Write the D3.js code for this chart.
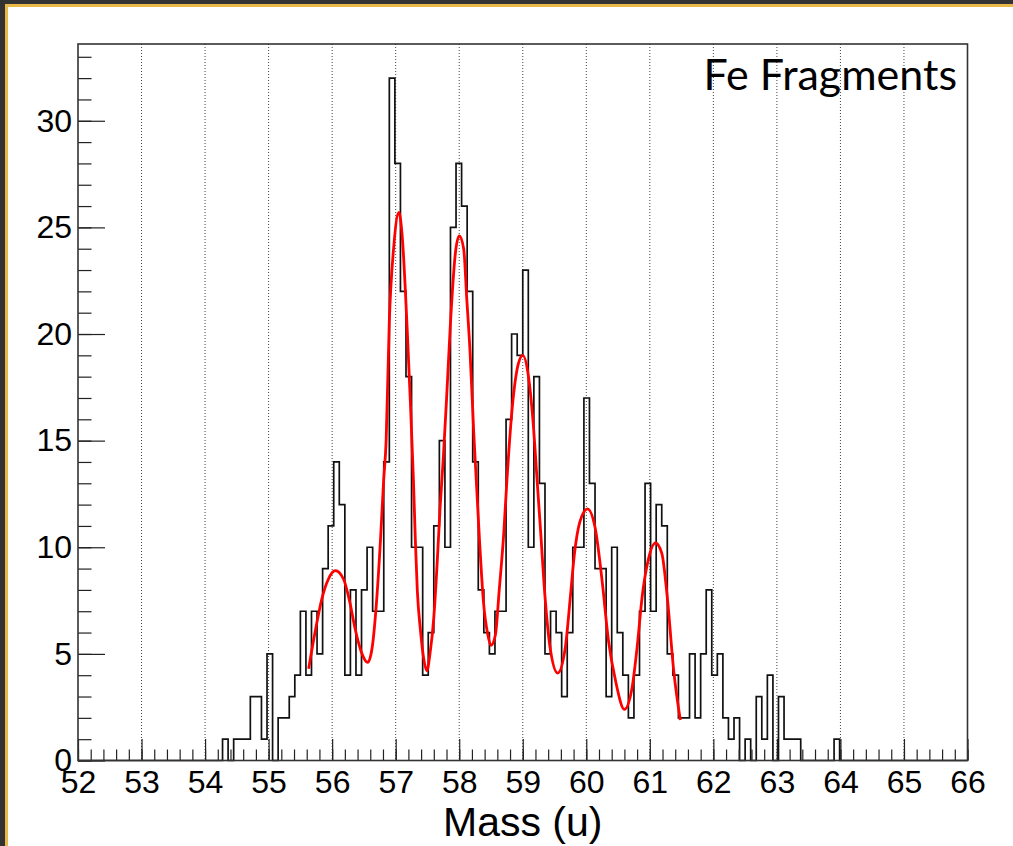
<!DOCTYPE html>
<html>
<head>
<meta charset="utf-8">
<script src="https://d3js.org/d3.v7.min.js"></script>
<style>
body { margin: 0; background: #fff; }
svg { display: block; }
</style>
</head>
<body>
<svg></svg>
<script>
// histogram binning (mass in u)
var binStart = 52;
var binWidth = 0.0875;
var binCount = 160;
var firstFilledBin = 26;

// counts, bin 26 (54.275 u) .. bin 136 (63.9 u)
var counts = [
    1, 0, 1, 1, 1, 3, 3, 1, 5, 0,
    2, 2, 3, 4, 7, 4, 7, 5, 9, 11,
    14, 12, 4, 8, 4, 8, 10, 7, 7, 14,
    32, 28, 22, 18, 10, 10, 4, 6, 11, 15,
    10, 25, 28, 26, 22, 14, 8, 6, 5, 7,
    7, 16, 20, 19, 23, 10, 18, 13, 5, 7,
    6, 3, 6, 10, 10, 17, 13, 9, 9, 3,
    10, 6, 4, 2, 4, 7, 13, 7, 12, 11,
    5, 4, 2, 2, 5, 2, 5, 8, 4, 5,
    2, 1, 2, 0, 1, 0, 3, 1, 4, 0,
    3, 1, 1, 1, 0, 0, 0, 0, 0, 0,
    1
];

// fitted curve, points
var fitMass = [55.63, 55.73, 55.84, 55.94, 56.05, 56.18, 56.28, 56.36, 56.47, 56.56,
    56.63, 56.70, 56.76, 56.81, 56.85, 56.90, 56.97, 57.05, 57.10, 57.18,
    57.23, 57.28, 57.31, 57.34, 57.39, 57.44, 57.49, 57.54, 57.60, 57.65,
    57.70, 57.75, 57.80, 57.86, 57.94, 58.00, 58.07, 58.12, 58.17, 58.23,
    58.28, 58.32, 58.38, 58.45, 58.50, 58.57, 58.63, 58.70, 58.75, 58.83,
    58.93, 59.00, 59.09, 59.17, 59.22, 59.28, 59.35, 59.43, 59.55, 59.67,
    59.75, 59.81, 59.90, 60.02, 60.14, 60.25, 60.35, 60.46, 60.60, 60.72,
    60.80, 60.88, 60.96, 61.09, 61.19, 61.27, 61.38, 61.48];
var fitCounts = [4.3, 6.0, 7.6, 8.5, 8.9, 8.5, 7.4, 6.2, 5.0, 4.6,
    5.3, 7.5, 10.3, 13.1, 15.0, 20.6, 24.1, 25.7, 24.7, 20.3,
    16.9, 13.1, 10.3, 8.0, 6.1, 4.8, 4.2, 5.0, 6.7, 9.1,
    11.9, 14.2, 16.9, 20.4, 23.8, 24.6, 24.0, 21.6, 19.2, 15.3,
    12.5, 10.3, 7.5, 5.9, 5.4, 5.9, 8.0, 10.6, 13.1, 16.4,
    18.6, 19.0, 18.0, 15.6, 13.4, 10.8, 7.7, 5.3, 4.1, 5.3,
    7.7, 9.6, 11.2, 11.8, 10.9, 8.4, 5.6, 3.75, 2.4, 3.4,
    5.3, 7.7, 9.2, 10.2, 9.7, 7.8, 4.1, 1.9];

var xTicks = [52, 53, 54, 55, 56, 57, 58, 59, 60, 61, 62, 63, 64, 65, 66];
var yTicks = [0, 5, 10, 15, 20, 25, 30];
var xTitle = "Mass (u)";
var label = "Fe Fragments";

var width = 1013, height = 846;
var frame = {left: 78, right: 967.5, top: 44, bottom: 760.5};
var font = "'Liberation Sans', Arial, Helvetica, sans-serif";

var svg = d3.select("svg")
    .attr("width", width)
    .attr("height", height);

// dark/gold border of the screenshot
svg.append("rect").attr("x", 0).attr("y", 0).attr("width", width).attr("height", 4).attr("fill", "#333");
svg.append("rect").attr("x", 0).attr("y", 0).attr("width", 5).attr("height", height).attr("fill", "#333");
svg.append("rect").attr("x", 5).attr("y", 4).attr("width", width - 5).attr("height", 3).attr("fill", "#e8b948");
svg.append("rect").attr("x", 5).attr("y", 4).attr("width", 3).attr("height", height - 4).attr("fill", "#e8b948");

var x = d3.scaleLinear()
    .domain([binStart, binStart + binCount * binWidth])
    .range([frame.left, frame.right]);

var y = d3.scaleLinear()
    .domain([0, 33.6])
    .range([frame.bottom, frame.top]);

//vertical dotted grid
svg.append("g")
    .selectAll("line")
    .data(xTicks.slice(1, -1))
    .enter().append("line")
    .attr("x1", function(d) { return x(d); })
    .attr("x2", function(d) { return x(d); })
    .attr("y1", frame.top)
    .attr("y2", frame.bottom)
    .attr("stroke", "#444")
    .attr("stroke-width", 1)
    .attr("stroke-dasharray", "1,2");

//histogram outline as steps
var full = d3.range(binCount).map(function(k) {
    var i = k - firstFilledBin;
    return (i >= 0 && i < counts.length) ? counts[i] : 0;
});
var steps = [[binStart, 0]];
full.forEach(function(c, k) { steps.push([binStart + k * binWidth, c]); });
steps.push([binStart + binCount * binWidth, full[binCount - 1]]);
steps.push([binStart + binCount * binWidth, 0]);

var stepLine = d3.line()
    .x(function(d) { return x(d[0]); })
    .y(function(d) { return y(d[1]); })
    .curve(d3.curveStepAfter);

svg.append("path")
    .datum(steps)
    .attr("d", stepLine)
    .attr("fill", "none")
    .attr("stroke", "#111")
    .attr("stroke-width", 1.7);

//red fit curve
var fitLine = d3.line()
    .x(function(d) { return x(d[0]); })
    .y(function(d) { return y(d[1]); })
    .curve(d3.curveMonotoneX);

svg.append("path")
    .datum(fitMass.map(function(m, i) { return [m, fitCounts[i]]; }))
    .attr("d", fitLine)
    .attr("fill", "none")
    .attr("stroke", "#ff0000")
    .attr("stroke-width", 2.8);

//axes - ticks point inwards like ROOT
var xMinor = d3.range(52, 66.001, 0.2).map(function(d) { return Math.round(d * 10) / 10; });
svg.append("g")
    .attr("transform", "translate(0," + frame.bottom + ")")
    .call(d3.axisBottom(x).tickValues(xMinor).tickSizeInner(-11).tickSizeOuter(0).tickFormat(""))
    .call(function(g) { g.select(".domain").remove(); });

var xAxis = svg.append("g")
    .attr("transform", "translate(0," + frame.bottom + ")")
    .call(d3.axisBottom(x).tickValues(xTicks).tickSizeInner(-21.5).tickSizeOuter(0).tickPadding(10).tickFormat(d3.format("d")))
    .call(function(g) { g.select(".domain").remove(); });

var yMinor = d3.range(0, 34);
svg.append("g")
    .attr("transform", "translate(" + frame.left + ",0)")
    .call(d3.axisLeft(y).tickValues(yMinor).tickSizeInner(-13.5).tickSizeOuter(0).tickFormat(""))
    .call(function(g) { g.select(".domain").remove(); });

var yAxis = svg.append("g")
    .attr("transform", "translate(" + frame.left + ",0)")
    .call(d3.axisLeft(y).tickValues(yTicks).tickSizeInner(-27).tickSizeOuter(0).tickPadding(6).tickFormat(d3.format("d")))
    .call(function(g) { g.select(".domain").remove(); });

svg.selectAll(".tick line").attr("stroke", "#222").attr("stroke-width", 1.2);
svg.selectAll(".tick text")
    .attr("font-family", font)
    .attr("font-size", 32)
    .attr("fill", "#000");

//frame
svg.append("rect")
    .attr("x", frame.left)
    .attr("y", frame.top)
    .attr("width", frame.right - frame.left)
    .attr("height", frame.bottom - frame.top)
    .attr("fill", "none")
    .attr("stroke", "#333")
    .attr("stroke-width", 1.6);

//titles
svg.append("text")
    .attr("x", (frame.left + frame.right) / 2)
    .attr("y", 836)
    .attr("text-anchor", "middle")
    .attr("font-family", font)
    .attr("font-size", 41)
    .text(xTitle);

svg.append("text")
    .attr("x", 957)
    .attr("y", 90)
    .attr("text-anchor", "end")
    .attr("font-family", "Lato, 'Open Sans', sans-serif")
    .attr("font-size", 43)
    .text(label);
</script>
</body>
</html>
